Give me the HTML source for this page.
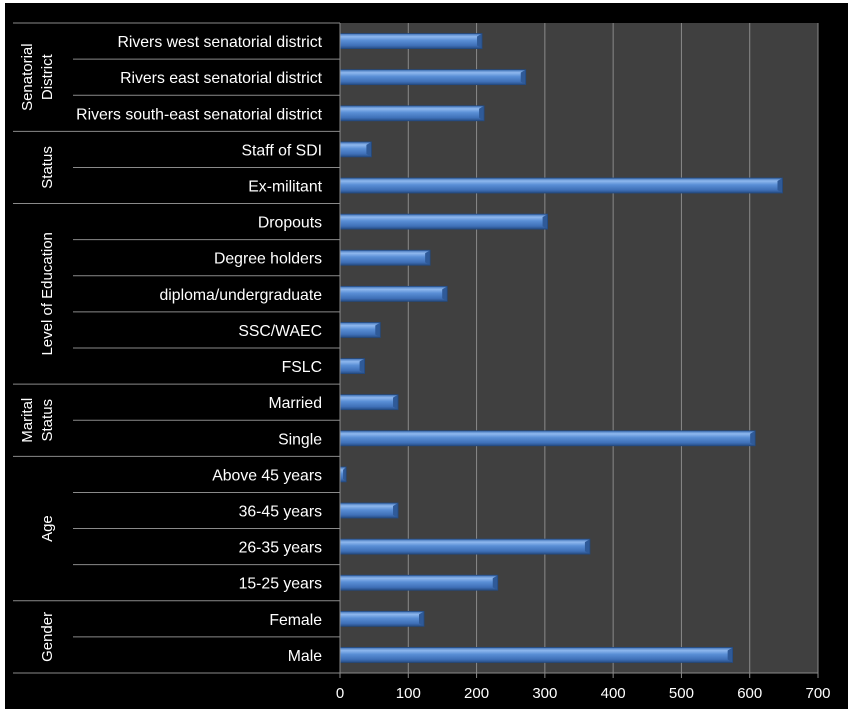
<!DOCTYPE html>
<html><head><meta charset="utf-8"><style>
html,body{margin:0;padding:0;background:#fff;}
svg{display:block;font-family:"Liberation Sans","DejaVu Sans",sans-serif;}
</style></head><body>
<svg id="chart" width="853" height="714">
<defs>
<linearGradient id="bg" x1="0" y1="0" x2="0" y2="1">
<stop offset="0" stop-color="#3d6fb5"/><stop offset="0.2" stop-color="#8fb8ee"/><stop offset="0.45" stop-color="#5a8fd6"/><stop offset="0.8" stop-color="#3f70b8"/><stop offset="1" stop-color="#274d85"/>
</linearGradient>
</defs>
<rect x="5" y="3" width="843" height="706" fill="#000"/>
<rect x="340" y="23" width="478" height="650" fill="#404040"/>
<g id="grid"></g><g id="bars"></g><g id="labels"></g><g id="axis"></g>
</svg>
<script>
const categories=["Rivers west senatorial district","Rivers east senatorial district","Rivers south-east senatorial district","Staff of SDI","Ex-militant","Dropouts","Degree holders","diploma/undergraduate","SSC/WAEC","FSLC","Married","Single","Above 45 years","36-45 years","26-35 years","15-25 years","Female","Male"];
const values=[208,272,211,46,648,304,132,157,59,36,85,608,9,85,366,231,123,575];
const groups=[["Senatorial","District"],["Status"],["Level of Education"],["Marital","Status"],["Age"],["Gender"]];
const groupSizes=[3,2,5,2,4,2];
const ticks=[0,100,200,300,400,500,600,700];
const NS="http://www.w3.org/2000/svg";
const x0=340,x1=818,yTop=23,yBot=673,xmax=700;
const n=categories.length,rowH=(yBot-yTop)/n;
const xs=v=>x0+(v/xmax)*(x1-x0);
function mk(t,a,p){const e=document.createElementNS(NS,t);for(const k in a)e.setAttribute(k,a[k]);p.appendChild(e);return e;}
const grid=document.getElementById('grid'),bars=document.getElementById('bars'),lab=document.getElementById('labels'),ax=document.getElementById('axis');
ticks.forEach(t=>{
 if(t>0){const g=mk('line',{x1:xs(t),x2:xs(t),y1:yTop,y2:yBot,stroke:'#8a8a8a','stroke-width':1},grid);
 
 }
 const tk=mk('line',{x1:xs(t),x2:xs(t),y1:yBot,y2:yBot+5,stroke:'#8a8a8a'},ax);
 
 
 const tl=mk('text',{x:xs(t),y:yBot+25,fill:'#fff','font-size':15,'text-anchor':'middle'},ax);
 tl.textContent=t;
 
 
});
const al=mk('line',{x1:x0,x2:x0,y1:yTop,y2:yBot,stroke:'#8a8a8a'},ax);


const bl=mk('line',{x1:x0,x2:x1,y1:yBot,y2:yBot,stroke:'#8a8a8a'},ax);


categories.forEach((c,i)=>{
 const cy=yTop+rowH*(i+0.5),w=xs(values[i])-x0,h=15,y=cy-h/2;
 const g=mk('g',{},bars);
 
 
 mk('rect',{x:x0,y:y,width:w,height:h,fill:'url(#bg)'},g);
 const b=Math.min(5,w/2);
 mk('polygon',{points:`${x0+w-b},${y+3} ${x0+w},${y} ${x0+w},${y+h} ${x0+w-b},${y+h-3}`,fill:'#2f5a98'},g);
 mk('rect',{x:x0,y:y,width:w,height:h,fill:'none',stroke:'#234a80','stroke-width':0.8},g);
 const t=mk('text',{x:322,y:cy+6,fill:'#fff','font-size':15.8,'text-anchor':'end'},lab);
 t.textContent=c;
 
 
});
let idx=0;
mk('line',{x1:13,x2:x0,y1:yTop,y2:yTop,stroke:'#8a8a8a'},lab);
groupSizes.forEach((s,gi)=>{
 for(let k=1;k<s;k++){const y=yTop+rowH*(idx+k);mk('line',{x1:73,x2:x0,y1:y,y2:y,stroke:'#8a8a8a'},lab);}
 const yb=yTop+rowH*(idx+s);mk('line',{x1:13,x2:x0,y1:yb,y2:yb,stroke:'#8a8a8a'},lab);
 const cy=yTop+rowH*(idx+s/2);
 const lines=groups[gi];
 lines.forEach((ln,li)=>{
  const cx=lines.length===1?47:(li===0?27:47);
  const t=mk('text',{x:cx+5,y:cy,fill:'#fff','font-size':15,'text-anchor':'middle',transform:`rotate(-90 ${cx+5} ${cy})`},lab);
  t.textContent=ln;
  
  
 });
 idx+=s;
});
</script>
</body></html>
